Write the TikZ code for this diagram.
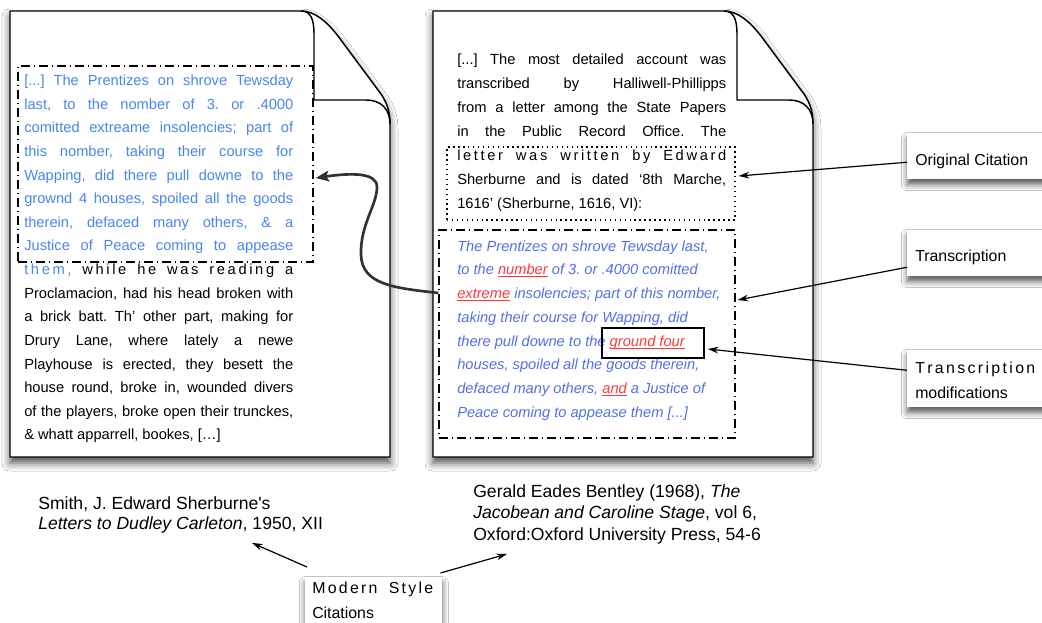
\documentclass[tikz,border=0pt]{standalone}
\usepackage{fontspec}
\setmainfont{Liberation Sans}[Ligatures=TeXOff]
\usetikzlibrary{arrows.meta,shadows.blur,calc,fit}
\frenchspacing

\definecolor{lblue}{RGB}{74,134,240}
\definecolor{iblue}{RGB}{82,112,236}
\definecolor{mark}{RGB}{255,58,58}
\definecolor{arrowgray}{RGB}{50,50,50}

% a justified line of a text block
\newcommand{\jline}[1]{\makebox[\linewidth][s]{#1}}
% a modified word of the transcription: red, underlined
\newcommand{\fix}[1]{\leavevmode{\color{mark}\setbox0=\hbox{#1}\rlap{\rule[-1.7pt]{\wd0}{0.6pt}}\box0}}

\tikzset{
  page/.style={fill=white, draw=black, line width=1.1pt, line join=round,
    blur shadow={shadow xshift=0pt, shadow yshift=-4.5pt, shadow blur radius=6pt, shadow opacity=70}},
  fold/.style={draw=black, line width=1.1pt, line join=round},
  sheet/.pic={
    \path[page] (10,11) -- (301,11) .. controls (315,11) and (327,22) .. (338,36)
      -- (378,90) .. controls (386,100) and (390,110) .. (390,124) -- (390,457) -- (10,457) -- cycle;
    \path[fold] (301,11) .. controls (310,11) and (314,18) .. (314,34) -- (314,100)
      -- (366,100) .. controls (381,100) and (390,109) .. (390,124);
  },
  dashdot/.style={draw=black, line width=0.9pt, inner sep=0pt, dash pattern=on 6.5pt off 3pt on 1pt off 3pt},
  dotbox/.style={draw=black, line width=0.9pt, inner sep=0pt, dash pattern=on 1.1pt off 2.6pt},
  body/.style={anchor=base west, inner sep=0pt},
  tag/.style={anchor=north west, fill=white, inner xsep=6pt, inner ysep=0pt,
    font=\fontsize{11.9}{18.75}\selectfont,
    blur shadow={shadow xshift=0pt, shadow yshift=-4pt, shadow blur radius=4.5pt, shadow opacity=65}},
  pointer/.style={draw=black, line width=0.9pt, -{Stealth[length=8pt,width=5pt]}},
  backlink/.style={draw=arrowgray, line width=2pt, -{Stealth[length=10pt,width=8pt,inset=2pt]}},
}

\begin{document}
\begin{tikzpicture}[x=0.75pt, y=-0.75pt]
\fill[white] (0,0) rectangle (1042,623);
\useasboundingbox (0,0) rectangle (1042,623);

% the two sheets
\pic at (0,0) {sheet};
\pic at (423,0) {sheet};

% left sheet: the letter
\node[body, font=\fontsize{11}{17.72}\selectfont] (ltext) at (24,85.5) {\parbox[t]{201.75pt}{%
\jline{\color{lblue}[...] The Prentizes on shrove Tewsday}\\
\jline{\color{lblue}last, to the nomber of 3. or .4000}\\
\jline{\color{lblue}comitted extreame insolencies; part of}\\
\jline{\color{lblue}this nomber, taking their course for}\\
\jline{\color{lblue}Wapping, did there pull downe to the}\\
\jline{\color{lblue}grownd 4 houses, spoiled all the goods}\\
\jline{\color{lblue}therein, defaced many others, \& a}\\
\jline{\color{lblue}Justice of Peace coming to appease}\\
\jline{\addfontfeature{LetterSpace=18}\textcolor{lblue}{them,} while he was reading a}\\
\jline{Proclamacion, had his head broken with}\\
\jline{a brick batt. Th’ other part, making for}\\
\jline{Drury Lane, where lately a newe}\\
\jline{Playhouse is erected, they besett the}\\
\jline{house round, broke in, wounded divers}\\
\jline{of the players, broke open their trunckes,}\\
\& whatt apparrell, bookes, […]}};
\node[dashdot, fit={(18,66) (313,262)}] (lbox) {};

% right sheet: the modern account
\node[body, font=\fontsize{11}{18}\selectfont] (rtext) at (457,65) {\parbox[t]{201.75pt}{%
\jline{[...] The most detailed account was}\\
\jline{transcribed by Halliwell-Phillipps}\\
\jline{from a letter among the State Papers}\\
\jline{in the Public Record Office. The}\\
\jline{\addfontfeature{LetterSpace=18}letter was written by Edward}\\
\jline{Sherburne and is dated ‘8th Marche,}\\
1616’ (Sherburne, 1616, VI):}};
\node[dotbox, fit={(447,147) (735,220)}] (cite) {};

\node[body, font=\fontsize{11}{17.8}\selectfont\itshape, text=iblue] (itext) at (457,251.2) {\parbox[t]{215pt}{\raggedright
The Prentizes on shrove Tewsday last,\\
to the \fix{number} of 3. or .4000 comitted\\
\fix{extreme} insolencies; part of this nomber,\\
taking their course for Wapping, did\\
there pull downe to the \fix{ground four}\\
houses, spoiled all the goods therein,\\
defaced many others, \fix{and} a Justice of\\
Peace coming to appease them [...]}};
\node[dashdot, fit={(439,230) (735,438)}] (rbox) {};
\node[draw=black, line width=1.1pt, inner sep=0pt, fit={(602,328) (704,358)}] (modbox) {};

% citations below the sheets
\node[anchor=base west, inner sep=0pt, font=\fontsize{13.2}{15}\selectfont] (smith) at (38,509)
  {\parbox[t]{230pt}{Smith, J. Edward Sherburne's\\\textit{Letters to Dudley Carleton}, 1950, XII}};
\node[anchor=north west, fill=white, inner xsep=6pt, inner ysep=0pt, text height=18.75pt, text depth=107.25pt,
  font=\fontsize{13.2}{16.1}\selectfont] (bentley) at (465,472)
  {\parbox[t]{241.5pt}{Gerald Eades Bentley (1968), \textit{The}\\\textit{Jacobean and Caroline Stage}, vol 6,\\Oxford:Oxford University Press, 54-6}};

% labels
\node[tag, text height=24pt, text depth=10.5pt] (orig) at (907,133) {\parbox[t]{95pt}{Original Citation}};
\node[tag, text height=23.8pt, text depth=10.7pt] (trans) at (907,230) {\parbox[t]{95pt}{Transcription}};
\node[tag, text height=17.25pt, text depth=25.5pt] (mods) at (907,350) {\parbox[t]{95pt}{%
  \leavevmode\hbox to 90pt{T\hfill r\hfill a\hfill n\hfill s\hfill c\hfill r\hfill i\hfill p\hfill t\hfill i\hfill o\hfill n}\\modifications}};
\node[tag, inner xsep=5.25pt, text height=12pt, text depth=35.25pt] (modern) at (305,577) {\parbox[t]{92.25pt}{%
  \leavevmode\hbox to 90.75pt{M\hfill o\hfill d\hfill e\hfill r\hfill n\hfill\hspace{5pt}\hfill S\hfill t\hfill y\hfill l\hfill e}\\Citations}};

% connectors
\draw[pointer] ($(orig.west)+(0,6)$) -- ($(cite.east)+(3,-7.5)$);
\draw[pointer] ($(trans.west)+(0,14)$) -- ($(rbox.east)+(2,-34)$);
\draw[pointer] ($(mods.west)+(0,-8.5)$) -- ($(modbox.east)+(3,6)$);
\draw[pointer] ($(modern.north west)+(2,-10)$) -- ($(smith.south west)+(214,10)$);
\draw[pointer] ($(modern.north east)+(-2,-4)$) -- ($(bentley.north west)+(42,82)$);
\draw[backlink] ($(rbox.west)+(0,-41)$) .. controls (395,288) and (362,285) .. (361,255)
  .. controls (360,225) and (377,205) .. (377,187)
  .. controls (377,172) and (350,173) .. ($(lbox.east)+(2,14)$);
\end{tikzpicture}
\end{document}
